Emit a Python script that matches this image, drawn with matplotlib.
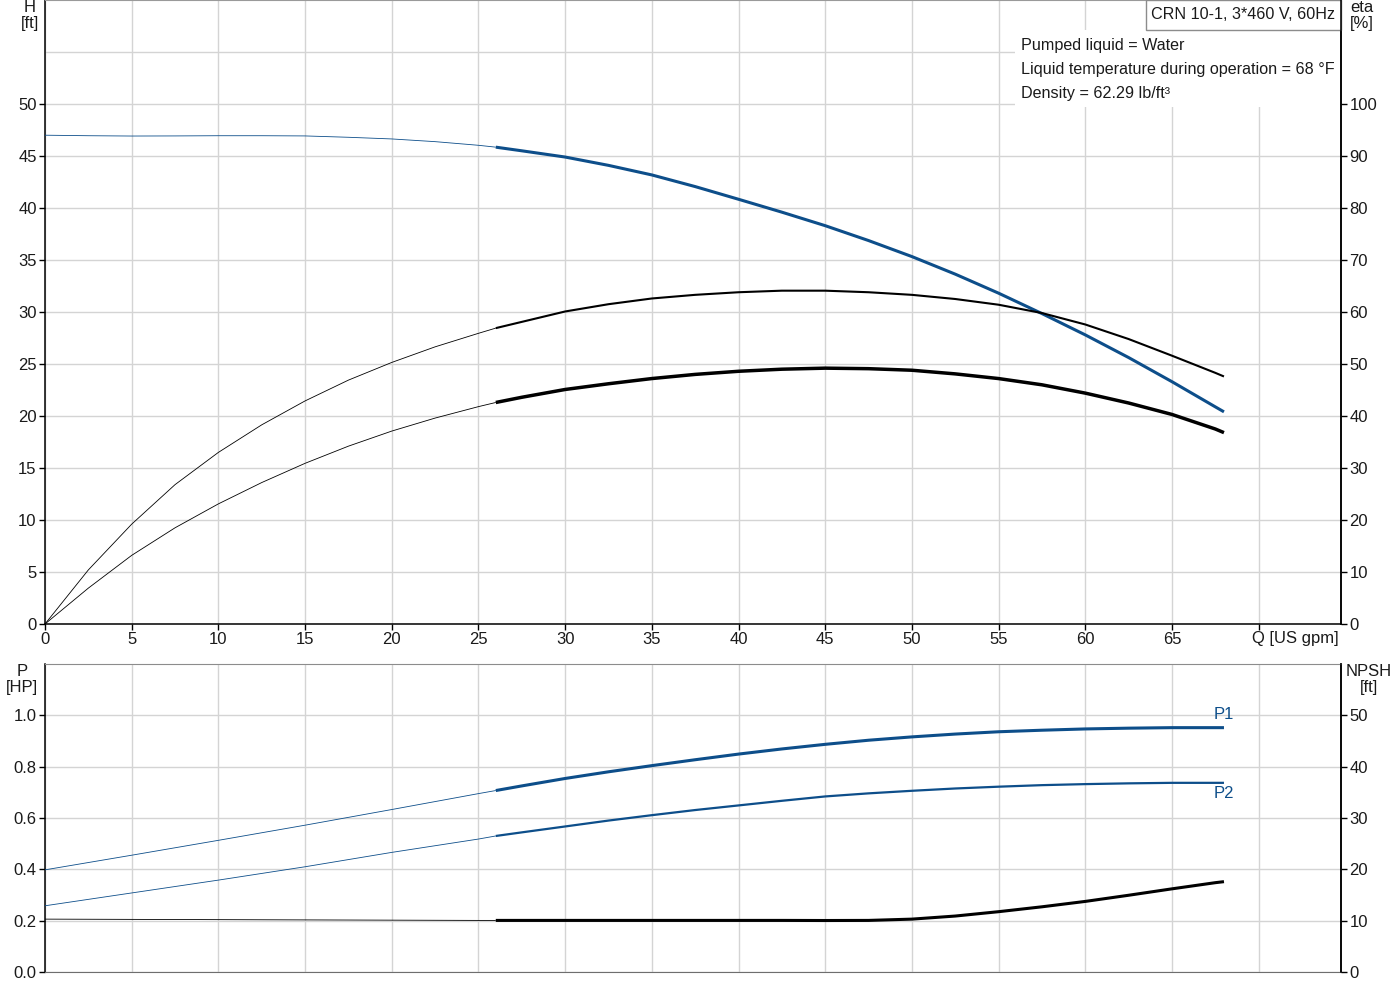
import matplotlib
matplotlib.use("Agg")
import matplotlib.pyplot as plt
from matplotlib.patches import Rectangle

plt.rcParams['font.family'] = ['Liberation Sans', 'DejaVu Sans']
plt.rcParams['font.size'] = 12

# ---------------- data ----------------
Q_top = [0, 2.5, 5, 7.5, 10, 12.5, 15, 17.5, 20, 22.5, 25, 26, 27.5, 30, 32.5, 35, 37.5,
         40, 42.5, 45, 47.5, 50, 52.5, 55, 57.5, 60, 62.5, 65, 67.5, 68]
H_ft = [47.0, 46.95, 46.92, 46.93, 46.95, 46.95, 46.93, 46.8, 46.64, 46.38, 46.03, 45.85,
        45.5, 44.9, 44.1, 43.18, 42.06, 40.84, 39.6, 38.3, 36.87, 35.33, 33.64, 31.81,
        29.85, 27.8, 25.62, 23.3, 20.88, 20.4]
eta_pump = [0, 10.4, 19.2, 26.8, 33.0, 38.3, 42.9, 46.9, 50.3, 53.3, 55.9, 56.9,
            58.1, 60.1, 61.5, 62.6, 63.3, 63.8, 64.1, 64.1, 63.8, 63.3, 62.5, 61.4,
            59.8, 57.6, 54.8, 51.6, 48.3, 47.6]
eta_total = [0, 6.9, 13.2, 18.5, 23.1, 27.2, 30.9, 34.2, 37.1, 39.6, 41.8, 42.6,
             43.6, 45.1, 46.2, 47.2, 48.0, 48.6, 49.0, 49.2, 49.1, 48.8, 48.1, 47.2,
             46.0, 44.4, 42.5, 40.3, 37.5, 36.8]

Q_bot = [0, 5, 10, 15, 20, 25, 26, 27.5, 30, 32.5, 35, 37.5, 40, 42.5, 45, 47.5, 50,
         52.5, 55, 57.5, 60, 62.5, 65, 67.5, 68]
P1_hp = [0.398, 0.455, 0.513, 0.572, 0.633, 0.695, 0.707, 0.725, 0.754, 0.780, 0.804,
         0.827, 0.849, 0.869, 0.887, 0.903, 0.916, 0.927, 0.936, 0.942, 0.947, 0.950,
         0.952, 0.952, 0.952]
P2_hp = [0.258, 0.308, 0.358, 0.410, 0.466, 0.518, 0.530, 0.544, 0.567, 0.590, 0.611,
         0.631, 0.649, 0.667, 0.684, 0.696, 0.706, 0.715, 0.722, 0.728, 0.732, 0.735,
         0.737, 0.737, 0.737]

Q_npsh = [0, 5, 10, 15, 20, 25, 26, 30, 35, 40, 42.5, 45, 47.5, 50, 52.5, 55, 57.5,
          60, 62.5, 65, 67.5, 68]
NPSH_ft = [10.3, 10.25, 10.2, 10.15, 10.1, 10.05, 10.05, 10.05, 10.05, 10.05, 10.05,
           10.03, 10.05, 10.3, 10.9, 11.75, 12.7, 13.75, 14.95, 16.2, 17.4, 17.6]

Q_split = 26
x_ticks = [0, 5, 10, 15, 20, 25, 30, 35, 40, 45, 50, 55, 60, 65, 70]
x_labels = ['0', '5', '10', '15', '20', '25', '30', '35', '40', '45', '50', '55', '60', '65', '']
x_title = 'Q [US gpm]'
H_ticks = [0, 5, 10, 15, 20, 25, 30, 35, 40, 45, 50]
eta_ticks = [0, 10, 20, 30, 40, 50, 60, 70, 80, 90, 100]
P_ticks = [0.0, 0.2, 0.4, 0.6, 0.8, 1.0]
NPSH_ticks = [0, 10, 20, 30, 40, 50]

title_text = 'CRN 10-1, 3*460 V, 60Hz'
info_lines = ['Pumped liquid = Water',
              'Liquid temperature during operation = 68 \u00b0F',
              'Density = 62.29 lb/ft\u00b3']

BLUE = '#0d4e8a'
GRID = '#d4d4d4'
TXT = '#1a1a1a'


def split(q, v):
    i = q.index(Q_split)
    return (q[:i + 1], v[:i + 1]), (q[i:], v[i:])


def draw(ax, q, v, color, lw_thick, lw_thin=0.6):
    (qa, va), (qb, vb) = split(q, v)
    ax.plot(qa, va, color=color, lw=lw_thin, zorder=3, solid_capstyle='butt',
            solid_joinstyle='round')
    ax.plot(qb, vb, color=color, lw=lw_thick, zorder=3, solid_capstyle='butt',
            solid_joinstyle='round')


fig = plt.figure(figsize=(14, 10), dpi=100)
L, R = 45 / 1400, 1341 / 1400
ax1 = fig.add_axes([L, 1 - 624 / 1000, R - L, 624 / 1000])
ax2 = fig.add_axes([L, 1 - 972 / 1000, R - L, (972 - 664) / 1000])

XMAX = 74.75
for ax in (ax1, ax2):
    ax.set_xlim(0, XMAX)
    ax.set_xticks(x_ticks)
    ax.grid(True, which='both', color=GRID, lw=1.0)
    ax.set_axisbelow(True)
    ax.tick_params(direction='out', length=4, width=1, colors='black', labelcolor=TXT,
                   labelsize=12, pad=2)

# ---------- top ----------
ax1.set_ylim(0, 60)
ax1.set_yticks(H_ticks)
ax1.set_yticks([55], minor=True)
ax1.tick_params(axis='y', which='minor', length=0)
ax1.set_xticklabels(x_labels)
ax1.annotate(x_title, xy=(70, 0), xycoords=('data', 'axes fraction'), xytext=(-7, -7),
             textcoords='offset pixels', ha='left', va='top', fontsize=12, color=TXT)
for s in ('left', 'bottom', 'right'):
    ax1.spines[s].set_color('black')
    ax1.spines[s].set_linewidth(1.1)
ax1.spines['top'].set_color('#9a9a9a')

ax1r = ax1.twinx()
ax1r.set_ylim(0, 120)
ax1r.set_yticks(eta_ticks)
ax1r.tick_params(direction='out', length=4, width=1, colors='black', labelcolor=TXT,
                 labelsize=12, pad=2)
for s in ('left', 'top', 'bottom'):
    ax1r.spines[s].set_visible(False)
ax1r.spines['right'].set_linewidth(1.1)

draw(ax1, Q_top, H_ft, BLUE, 2.2)
draw(ax1r, Q_top, eta_pump, 'black', 1.5)
draw(ax1r, Q_top, eta_total, 'black', 2.5)

# info box (white background)
ax1.add_patch(Rectangle((0.7485, 0.8285), 0.2515, 0.1235, transform=ax1.transAxes,
                        facecolor='white', edgecolor='none', zorder=2))
yl = [0.9265, 0.888, 0.8496]
for t, y in zip(info_lines, yl):
    ax1.text(0.753, y, t, transform=ax1.transAxes, ha='left', va='center',
             fontsize=11.6, color=TXT, zorder=4)
# title box
ax1.add_patch(Rectangle((0.8495, 0.952), 0.1505, 0.048, transform=ax1.transAxes,
                        facecolor='white', edgecolor='#8c8c8c', lw=1.0, zorder=4, clip_on=False))
ax1.text(0.8495 + 0.1505 / 2, 0.976, title_text, transform=ax1.transAxes, ha='center',
         va='center', fontsize=11.6, color=TXT, zorder=5)

# ---------- bottom ----------
ax2.set_ylim(0, 1.2)
ax2.set_yticks(P_ticks)
ax2.set_yticklabels([f'{t:.1f}' for t in P_ticks])
ax2.tick_params(axis='x', length=0, labelbottom=False)
ax2.spines['left'].set_color('black')
ax2.spines['left'].set_linewidth(1.1)
ax2.spines['right'].set_color('black')
ax2.spines['right'].set_linewidth(1.1)
ax2.spines['top'].set_color('#8c8c8c')
ax2.spines['bottom'].set_color('#6e6e6e')

ax2r = ax2.twinx()
ax2r.set_ylim(0, 60)
ax2r.set_yticks(NPSH_ticks)
ax2r.tick_params(direction='out', length=4, width=1, colors='black', labelcolor=TXT,
                 labelsize=12, pad=2)
for s in ('left', 'top', 'bottom'):
    ax2r.spines[s].set_visible(False)
ax2r.spines['right'].set_linewidth(1.1)

draw(ax2, Q_bot, P1_hp, BLUE, 2.2)
draw(ax2, Q_bot, P2_hp, BLUE, 1.6)
draw(ax2r, Q_npsh, NPSH_ft, 'black', 2.2)

ax2.annotate('P1', xy=(Q_bot[-1], P1_hp[-1]), xytext=(0, 6), textcoords='offset pixels',
             ha='center', va='bottom', color=BLUE, fontsize=12)
ax2.annotate('P2', xy=(Q_bot[-1], P2_hp[-1]), xytext=(0, -3), textcoords='offset pixels',
             ha='center', va='top', color=BLUE, fontsize=12)

# axis unit labels
kw = dict(ha='center', va='top', fontsize=12, color=TXT, linespacing=1.05)
fig.text(30 / 1400, 1.0, 'H\n[ft]', **kw)
fig.text(1362 / 1400, 1.0, 'eta\n[%]', **kw)
fig.text(22 / 1400, 1 - 664 / 1000, 'P\n[HP]', **kw)
fig.text(1369 / 1400, 1 - 664 / 1000, 'NPSH\n[ft]', **kw)

fig.savefig('out.png', dpi=100)
